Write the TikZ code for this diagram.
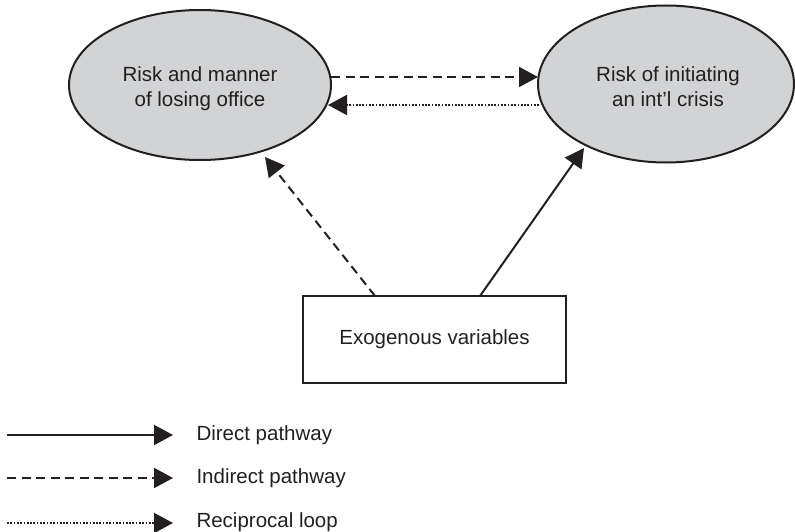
\documentclass[tikz,border=0pt]{standalone}
\usepackage{fontspec}
\setmainfont{Liberation Sans}
\usetikzlibrary{arrows.meta,shapes.geometric}
\definecolor{ellgray}{HTML}{D1D3D4}
\definecolor{ink}{HTML}{231F20}
\begin{document}
\begin{tikzpicture}[x=1pt,y=-1pt,
  every node/.style={font=\fontsize{20.5}{25}\selectfont, text=ink},
  ell/.style={ellipse, draw=ink, line width=2pt, fill=ellgray, inner sep=0pt},
  elltext/.style={align=center, inner sep=0pt},
  box/.style={rectangle, draw=ink, line width=2pt, minimum width=263pt, minimum height=87pt, inner sep=0pt},
  conn/.style={draw=ink, line width=2pt, -{Triangle[length=19pt,width=20pt]}},
  dashedline/.style={dash pattern=on 9pt off 5.5pt},
  dottedline/.style={dash pattern=on 1.7pt off 1.6pt},
  legtext/.style={anchor=west}
]
\useasboundingbox (0,0) rectangle (795,532);
\node[ell, minimum width=262pt, minimum height=150pt] (L) at (200,85) {};
\node[ell, minimum width=256pt, minimum height=157pt] (R) at (666,84) {};
\node[elltext] (Lt) at (200,89) {Risk and manner\\of losing office};
\node[elltext] (Rt) at (668,87) {Risk of initiating\\an int'l crisis};
\node[box] (X) at (434.5,339.5) {Exogenous variables};

\coordinate (La) at (331,77);
\coordinate (Ra) at (538,77);
\coordinate (Lb) at (328,105);
\coordinate (Rb) at (539,105);
\draw[conn, dashedline] (La) -- (Ra);
\draw[conn, dottedline] (Rb) -- (Lb);

\coordinate (X1) at (375,296);
\coordinate (X2) at (480,296);
\coordinate (Lc) at (265,157);
\coordinate (Rc) at (584,148);
\draw[conn, dashedline] (X1) -- (Lc);
\draw[conn] (X2) -- (Rc);

% legend
\coordinate (s1) at (7,435);  \coordinate (e1) at (173,435);
\coordinate (s2) at (7,478);  \coordinate (e2) at (173,478);
\coordinate (s3) at (7,523);  \coordinate (e3) at (173,523);
\draw[conn] (s1) -- (e1);
\draw[conn, dashedline] (s2) -- (e2);
\draw[conn, dottedline] (s3) -- (e3);
\node[legtext] (t1) at (193,435) {Direct pathway};
\node[legtext] (t2) at (193,478) {Indirect pathway};
\node[legtext] (t3) at (193,522) {Reciprocal loop};
\end{tikzpicture}
\end{document}
